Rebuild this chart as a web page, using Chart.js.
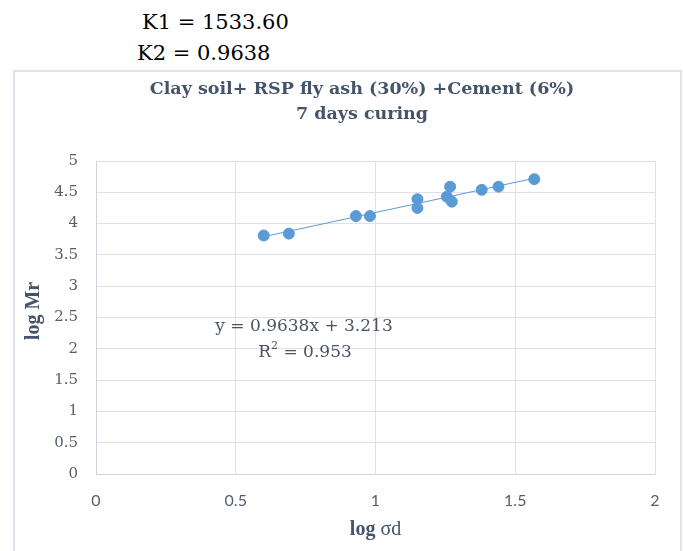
<!DOCTYPE html>
<html>
<head>
<meta charset="utf-8">
<script src="https://cdn.jsdelivr.net/npm/chart.js@4.4.1/dist/chart.umd.min.js"></script>
<style>
  body { margin: 0; background: #fff; width: 683px; height: 551px; overflow: hidden; position: relative; }
  .k { position: absolute; font-family: "DejaVu Serif", serif; font-size: 21px; color: #000; }
  #box { position: absolute; left: 13px; top: 70px; width: 669px; height: 490px;
         border: 2px solid #e3e3ee; box-sizing: border-box; }
  #wrap { position: absolute; left: 13px; top: 70px; width: 670px; height: 481px; }
</style>
</head>
<body>
<div class="k" style="left:142px; top:10px;">K1 = 1533.60</div>
<div class="k" style="left:137px; top:41px;">K2 = 0.9638</div>
<div id="box"></div>
<div id="wrap"><canvas id="chart"></canvas></div>
<script>
// log σd and log Mr readings
const logSigma = [0.60, 0.69, 0.93, 0.98, 1.15, 1.15, 1.255, 1.267, 1.273, 1.38, 1.44, 1.568];
const logMr    = [3.81, 3.84, 4.12, 4.12, 4.25, 4.39, 4.43, 4.59, 4.35, 4.54, 4.59, 4.71];
const slope = 0.9638;
const intercept = 3.213;
const rSquared = '0.953';
const titleLines = ['Clay soil+ RSP fly ash (30%) +Cement (6%)', '7 days curing'];
const xTicks = [0, 0.5, 1, 1.5, 2];
const yTicks = [0, 0.5, 1, 1.5, 2, 2.5, 3, 3.5, 4, 4.5, 5];

const blue = '#5b9bd5';
const slate = '#44546a';
const tickColor = '#555e6e';
const grid = '#e0e0e8';

const points = logSigma.map((x, i) => ({x: x, y: logMr[i]}));
const xMin = Math.min(...logSigma), xMax = Math.max(...logSigma);
const trend = [xMin, xMax].map(x => ({x: x, y: slope * x + intercept}));

const extras = {
    id: 'extras',
    afterDraw(c) {
        const ctx = c.ctx;
        const a = c.chartArea;
        ctx.save();
        ctx.fillStyle = slate;
        ctx.textAlign = 'center';
        ctx.textBaseline = 'middle';
        ctx.font = 'bold 17.5px "DejaVu Serif"';
        ctx.fillText(titleLines[0], 349, 19);
        ctx.fillText(titleLines[1], 349, 44);

        // y axis title
        ctx.save();
        ctx.translate(21, 241);
        ctx.rotate(-Math.PI / 2);
        ctx.font = 'bold 20px "Liberation Serif"';
        ctx.fillText('log Mr', 0, 0);
        ctx.restore();

        // x axis title, "log" bold and "σd" regular
        ctx.textAlign = 'left';
        ctx.font = 'bold 20px "Liberation Serif"';
        const w1 = ctx.measureText('log ').width;
        ctx.font = '20px "Liberation Serif"';
        const w2 = ctx.measureText('σd').width;
        const sx = (a.left + a.right) / 2 - (w1 + w2) / 2;
        ctx.font = 'bold 20px "Liberation Serif"';
        ctx.fillText('log ', sx, 460);
        ctx.font = '20px "Liberation Serif"';
        ctx.fillText('σd', sx + w1, 460);

        // equation label
        ctx.fillStyle = '#4a5263';
        ctx.textAlign = 'center';
        ctx.font = '17px "DejaVu Serif"';
        ctx.fillText('y = ' + slope + 'x + ' + intercept, 291, 257);
        ctx.textAlign = 'left';
        const rA = 'R', rB = ' = ' + rSquared;
        const wa = ctx.measureText(rA).width, wb = ctx.measureText(rB).width;
        ctx.font = '11px "DejaVu Serif"';
        const ws = ctx.measureText('2').width;
        let rx = 292 - (wa + ws + wb) / 2;
        ctx.font = '17px "DejaVu Serif"';
        ctx.fillText(rA, rx, 283);
        ctx.font = '11px "DejaVu Serif"';
        ctx.fillText('2', rx + wa, 276);
        ctx.font = '17px "DejaVu Serif"';
        ctx.fillText(rB, rx + wa + ws, 283);
        ctx.restore();
    }
};

new Chart(document.getElementById('chart'), {
    type: 'scatter',
    data: {
        datasets: [{
            data: points,
            backgroundColor: blue,
            borderColor: blue,
            pointRadius: 5.5,
            pointHoverRadius: 5.5,
            order: 1
        }, {
            type: 'line',
            data: trend,
            borderColor: blue,
            borderWidth: 1,
            pointRadius: 0,
            fill: false,
            order: 2
        }]
    },
    options: {
        responsive: true,
        maintainAspectRatio: false,
        animation: false,
        layout: {padding: {top: 91, right: 28, left: 0, bottom: 0}},
        plugins: {legend: {display: false}, tooltip: {enabled: false}, title: {display: false}},
        scales: {
            x: {
                type: 'linear', min: 0, max: 2,
                afterBuildTicks: s => { s.ticks = xTicks.map(v => ({value: v})); },
                afterFit: s => { s.height = 77; },
                grid: {color: grid, drawTicks: false},
                border: {color: '#cfd3dd'},
                ticks: {padding: 17, color: tickColor, font: {family: 'Lato', size: 16},
                        maxRotation: 0, callback: v => String(v)}
            },
            y: {
                type: 'linear', min: 0, max: 5,
                afterBuildTicks: s => { s.ticks = yTicks.map(v => ({value: v})); },
                afterFit: s => { s.width = 83; },
                grid: {color: grid, drawTicks: false},
                border: {color: '#cfd3dd'},
                ticks: {padding: 18, color: tickColor, font: {family: 'DejaVu Serif', size: 15},
                        callback: v => String(v)}
            }
        }
    },
    plugins: [extras]
});
</script>
</body>
</html>
